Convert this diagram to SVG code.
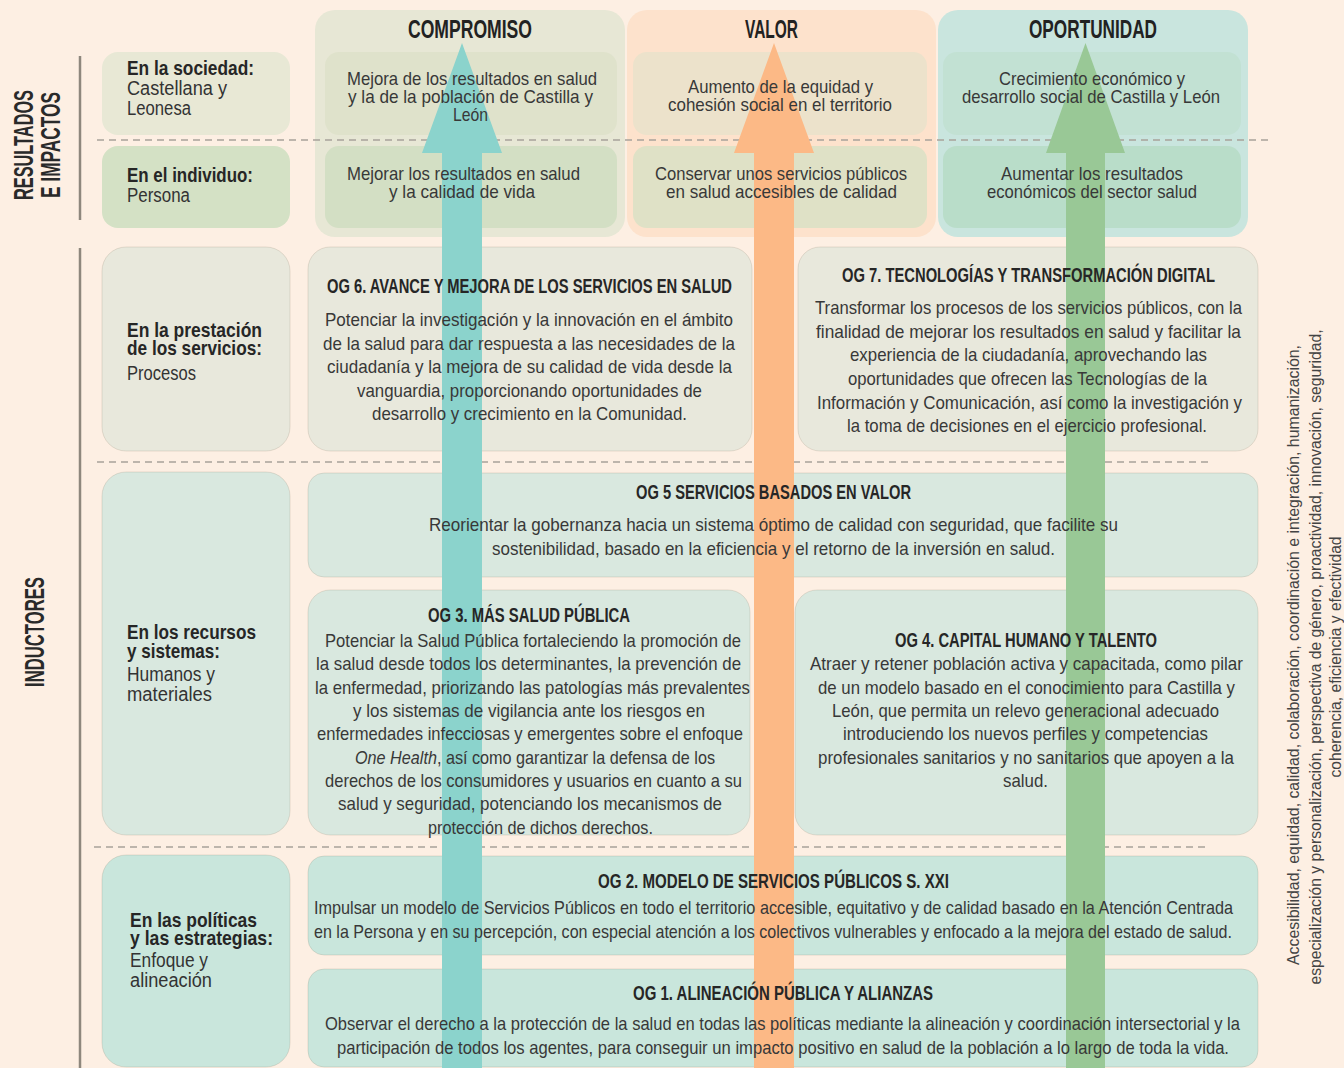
<svg xmlns="http://www.w3.org/2000/svg" width="1344" height="1068" viewBox="0 0 1344 1068">
<style>
text{font-family:"Liberation Sans",Arial,sans-serif}
.hdr{font-weight:bold;font-size:25px;fill:#222}
.big{font-weight:bold;font-size:28px;fill:#2a2a2a}
.lb{font-weight:bold;font-size:21px;fill:#262626}
.lr{font-size:20px;fill:#333}
.t{font-size:19px;fill:#383838}
.ttl{font-weight:bold;font-size:20px;fill:#262626}
.side{font-size:16px;fill:#444}
.sep{stroke:#a8a29a;stroke-width:1.6;stroke-dasharray:7 5;fill:none}
.vline{stroke:#8e877d;stroke-width:2.5}
.box{stroke:rgba(120,110,90,0.18);stroke-width:1}
.c1{fill:#e8e8dc}
.c2{fill:#d9e8df}
.c3{fill:#c9e6dc}
</style>
<rect width="1344" height="1068" fill="#fdefe3"/>

<!-- left axis lines and big labels -->
<g id="axis">
<line class="vline" x1="80" y1="56" x2="80" y2="220"/>
<line class="vline" x1="80" y1="248" x2="80" y2="1068"/>
</g>

<!-- node shapes -->
<g id="node-compromiso"><rect x="315" y="10" width="310" height="227" rx="20" fill="#e7e7d5"/></g>
<g id="node-valor"><rect x="627" y="10" width="309" height="227" rx="20" fill="#fde2cc"/></g>
<g id="node-oportunidad"><rect x="938" y="10" width="310" height="227" rx="20" fill="#c9e5de"/></g>

<g id="node-sociedad"><rect x="102" y="52" width="188" height="83" rx="16" fill="#e8e8d5"/></g>
<g id="node-individuo"><rect x="102" y="146" width="188" height="82" rx="16" fill="#d4e1c5"/></g>
<g id="node-comp-soc"><rect x="325" y="52" width="292" height="83" rx="14" fill="#dfe2cb"/></g>
<g id="node-comp-ind"><rect x="325" y="146" width="292" height="82" rx="14" fill="#d3dfc4"/></g>
<g id="node-val-soc"><rect x="633" y="52" width="294" height="83" rx="14" fill="#ece2cb"/></g>
<g id="node-val-ind"><rect x="633" y="146" width="294" height="82" rx="14" fill="#dfe1c6"/></g>
<g id="node-op-soc"><rect x="943" y="52" width="298" height="83" rx="14" fill="#c2e1d3"/></g>
<g id="node-op-ind"><rect x="943" y="146" width="298" height="82" rx="14" fill="#b9ddc9"/></g>

<g id="node-prestacion"><rect class="box c1" x="102" y="247" width="188" height="204" rx="24"/></g>
<g id="node-og6"><rect class="box c1" x="308" y="247" width="444" height="204" rx="22"/></g>
<g id="node-og7"><rect class="box c1" x="798" y="247" width="460" height="204" rx="22"/></g>
<g id="node-og5"><rect class="box c2" x="308" y="473" width="950" height="104" rx="16"/></g>
<g id="node-recursos"><rect class="box c2" x="102" y="472" width="188" height="363" rx="24"/></g>
<g id="node-og3"><rect class="box c2" x="308" y="590" width="442" height="245" rx="22"/></g>
<g id="node-og4"><rect class="box c2" x="795" y="590" width="463" height="245" rx="22"/></g>
<g id="node-politicas"><rect class="box c3" x="102" y="855" width="188" height="212" rx="24"/></g>
<g id="node-og2"><rect class="box c3" x="308" y="856" width="950" height="99" rx="16"/></g>
<g id="node-og1"><rect class="box c3" x="308" y="969" width="950" height="98" rx="16"/></g>

<!-- separators -->
<g id="separators">
<line class="sep" x1="97" y1="140" x2="1270" y2="140"/>
<line class="sep" x1="97" y1="462" x2="1210" y2="462"/>
<line class="sep" x1="94" y1="847" x2="1210" y2="847"/>
</g>

<!-- connectors: the three upward arrows -->
<g id="connectors">
<polygon points="462,43 502,153 482,153 482,1068 442,1068 442,153 422,153" fill="#8bd3cc"/>
<polygon points="774,43 814,153 794,153 794,1068 754,1068 754,153 734,153" fill="#fcb986"/>
<polygon points="1085.5,43 1125,153 1105,153 1105,1068 1066,1068 1066,153 1046,153" fill="#99c896"/>
</g>

<!-- labels -->
<g id="label-axis">
<text class="big" transform="translate(33,145) rotate(-90)" text-anchor="middle" textLength="110" lengthAdjust="spacingAndGlyphs">RESULTADOS</text>
<text class="big" transform="translate(60,145) rotate(-90)" text-anchor="middle" textLength="106" lengthAdjust="spacingAndGlyphs">E IMPACTOS</text>
<text class="big" transform="translate(44,632) rotate(-90)" text-anchor="middle" textLength="110" lengthAdjust="spacingAndGlyphs">INDUCTORES</text>
</g>

<g id="label-headers">
<text class="hdr" x="408" y="38" textLength="124" lengthAdjust="spacingAndGlyphs">COMPROMISO</text>
<text class="hdr" x="745" y="38" textLength="53" lengthAdjust="spacingAndGlyphs">VALOR</text>
<text class="hdr" x="1029" y="38" textLength="128" lengthAdjust="spacingAndGlyphs">OPORTUNIDAD</text>
</g>

<g id="label-sociedad">
<text class="lb" x="127" y="75" textLength="127" lengthAdjust="spacingAndGlyphs">En la sociedad:</text>
<text class="lr" x="127" y="95" textLength="100" lengthAdjust="spacingAndGlyphs">Castellana y</text>
<text class="lr" x="127" y="115" textLength="64" lengthAdjust="spacingAndGlyphs">Leonesa</text>
</g>
<g id="label-individuo">
<text class="lb" x="127" y="182" textLength="126" lengthAdjust="spacingAndGlyphs">En el individuo:</text>
<text class="lr" x="127" y="202" textLength="63" lengthAdjust="spacingAndGlyphs">Persona</text>
</g>

<g id="label-comp-soc">
<text class="t" x="347" y="85" textLength="250" lengthAdjust="spacingAndGlyphs">Mejora de los resultados en salud</text>
<text class="t" x="348" y="103" textLength="245" lengthAdjust="spacingAndGlyphs">y la de la población de Castilla y</text>
<text class="t" x="453" y="121" textLength="35" lengthAdjust="spacingAndGlyphs">León</text>
</g>
<g id="label-comp-ind">
<text class="t" x="347" y="180" textLength="233" lengthAdjust="spacingAndGlyphs">Mejorar los resultados en salud</text>
<text class="t" x="389" y="198" textLength="146" lengthAdjust="spacingAndGlyphs">y la calidad de vida</text>
</g>
<g id="label-val-soc">
<text class="t" x="688" y="93" textLength="185" lengthAdjust="spacingAndGlyphs">Aumento de la equidad y</text>
<text class="t" x="668" y="111" textLength="224" lengthAdjust="spacingAndGlyphs">cohesión social en el territorio</text>
</g>
<g id="label-val-ind">
<text class="t" x="655" y="180" textLength="252" lengthAdjust="spacingAndGlyphs">Conservar unos servicios públicos</text>
<text class="t" x="666" y="198" textLength="231" lengthAdjust="spacingAndGlyphs">en salud accesibles de calidad</text>
</g>
<g id="label-op-soc">
<text class="t" x="999" y="85" textLength="186" lengthAdjust="spacingAndGlyphs">Crecimiento económico y</text>
<text class="t" x="962" y="103" textLength="258" lengthAdjust="spacingAndGlyphs">desarrollo social de Castilla y León</text>
</g>
<g id="label-op-ind">
<text class="t" x="1001" y="180" textLength="182" lengthAdjust="spacingAndGlyphs">Aumentar los resultados</text>
<text class="t" x="987" y="198" textLength="210" lengthAdjust="spacingAndGlyphs">económicos del sector salud</text>
</g>

<g id="label-prestacion">
<text class="lb" x="127" y="337" textLength="135" lengthAdjust="spacingAndGlyphs">En la prestación</text>
<text class="lb" x="127" y="355" textLength="135" lengthAdjust="spacingAndGlyphs">de los servicios:</text>
<text class="lr" x="127" y="380" textLength="69" lengthAdjust="spacingAndGlyphs">Procesos</text>
</g>
<g id="label-recursos">
<text class="lb" x="127" y="639" textLength="129" lengthAdjust="spacingAndGlyphs">En los recursos</text>
<text class="lb" x="127" y="658" textLength="93" lengthAdjust="spacingAndGlyphs">y sistemas:</text>
<text class="lr" x="127" y="681" textLength="88" lengthAdjust="spacingAndGlyphs">Humanos y</text>
<text class="lr" x="127" y="701" textLength="85" lengthAdjust="spacingAndGlyphs">materiales</text>
</g>
<g id="label-politicas">
<text class="lb" x="130" y="927" textLength="127" lengthAdjust="spacingAndGlyphs">En las políticas</text>
<text class="lb" x="130" y="945" textLength="143" lengthAdjust="spacingAndGlyphs">y las estrategias:</text>
<text class="lr" x="130" y="967" textLength="78" lengthAdjust="spacingAndGlyphs">Enfoque y</text>
<text class="lr" x="130" y="987" textLength="82" lengthAdjust="spacingAndGlyphs">alineación</text>
</g>

<g id="label-og6">
<text class="ttl" x="327" y="293" textLength="405" lengthAdjust="spacingAndGlyphs">OG 6. AVANCE Y MEJORA DE LOS SERVICIOS EN SALUD</text>
<text class="t" x="325" y="326" textLength="408" lengthAdjust="spacingAndGlyphs">Potenciar la investigación y la innovación en el ámbito</text>
<text class="t" x="323" y="349.5" textLength="412" lengthAdjust="spacingAndGlyphs">de la salud para dar respuesta a las necesidades de la</text>
<text class="t" x="327" y="373" textLength="405" lengthAdjust="spacingAndGlyphs">ciudadanía y la mejora de su calidad de vida desde la</text>
<text class="t" x="357" y="396.5" textLength="345" lengthAdjust="spacingAndGlyphs">vanguardia, proporcionando oportunidades de</text>
<text class="t" x="372" y="420" textLength="315" lengthAdjust="spacingAndGlyphs">desarrollo y crecimiento en la Comunidad.</text>
</g>
<g id="label-og7">
<text class="ttl" x="842" y="282" textLength="373" lengthAdjust="spacingAndGlyphs">OG 7. TECNOLOGÍAS Y TRANSFORMACIÓN DIGITAL</text>
<text class="t" x="815" y="314" textLength="427" lengthAdjust="spacingAndGlyphs">Transformar los procesos de los servicios públicos, con la</text>
<text class="t" x="816" y="337.5" textLength="425" lengthAdjust="spacingAndGlyphs">finalidad de mejorar los resultados en salud y facilitar la</text>
<text class="t" x="850" y="361" textLength="357" lengthAdjust="spacingAndGlyphs">experiencia de la ciudadanía, aprovechando las</text>
<text class="t" x="848" y="385" textLength="359" lengthAdjust="spacingAndGlyphs">oportunidades que ofrecen las Tecnologías de la</text>
<text class="t" x="817" y="408.5" textLength="425" lengthAdjust="spacingAndGlyphs">Información y Comunicación, así como la investigación y</text>
<text class="t" x="847" y="432" textLength="360" lengthAdjust="spacingAndGlyphs">la toma de decisiones en el ejercicio profesional.</text>
</g>
<g id="label-og5">
<text class="ttl" x="636" y="499" textLength="275" lengthAdjust="spacingAndGlyphs">OG 5 SERVICIOS BASADOS EN VALOR</text>
<text class="t" x="429" y="531" textLength="689" lengthAdjust="spacingAndGlyphs">Reorientar la gobernanza hacia un sistema óptimo de calidad con seguridad, que facilite su</text>
<text class="t" x="492" y="555" textLength="563" lengthAdjust="spacingAndGlyphs">sostenibilidad, basado en la eficiencia y el retorno de la inversión en salud.</text>
</g>
<g id="label-og3">
<text class="ttl" x="428" y="622" textLength="202" lengthAdjust="spacingAndGlyphs">OG 3. MÁS SALUD PÚBLICA</text>
<text class="t" x="325" y="647" textLength="416" lengthAdjust="spacingAndGlyphs">Potenciar la Salud Pública fortaleciendo la promoción de</text>
<text class="t" x="316" y="670" textLength="425" lengthAdjust="spacingAndGlyphs">la salud desde todos los determinantes, la prevención de</text>
<text class="t" x="315" y="694" textLength="435" lengthAdjust="spacingAndGlyphs">la enfermedad, priorizando las patologías más prevalentes</text>
<text class="t" x="353" y="717" textLength="352" lengthAdjust="spacingAndGlyphs">y los sistemas de vigilancia ante los riesgos en</text>
<text class="t" x="317" y="740" textLength="426" lengthAdjust="spacingAndGlyphs">enfermedades infecciosas y emergentes sobre el enfoque</text>
<text class="t" x="355" y="764" textLength="360" lengthAdjust="spacingAndGlyphs"><tspan font-style="italic">One Health</tspan>, así como garantizar la defensa de los</text>
<text class="t" x="325" y="787" textLength="417" lengthAdjust="spacingAndGlyphs">derechos de los consumidores y usuarios en cuanto a su</text>
<text class="t" x="338" y="810" textLength="384" lengthAdjust="spacingAndGlyphs">salud y seguridad, potenciando los mecanismos de</text>
<text class="t" x="428" y="834" textLength="225" lengthAdjust="spacingAndGlyphs">protección de dichos derechos.</text>
</g>
<g id="label-og4">
<text class="ttl" x="895" y="647" textLength="262" lengthAdjust="spacingAndGlyphs">OG 4. CAPITAL HUMANO Y TALENTO</text>
<text class="t" x="810" y="670" textLength="433" lengthAdjust="spacingAndGlyphs">Atraer y retener población activa y capacitada, como pilar</text>
<text class="t" x="818" y="693.5" textLength="417" lengthAdjust="spacingAndGlyphs">de un modelo basado en el conocimiento para Castilla y</text>
<text class="t" x="832" y="717" textLength="387" lengthAdjust="spacingAndGlyphs">León, que permita un relevo generacional adecuado</text>
<text class="t" x="843" y="740" textLength="365" lengthAdjust="spacingAndGlyphs">introduciendo los nuevos perfiles y competencias</text>
<text class="t" x="818" y="763.5" textLength="416" lengthAdjust="spacingAndGlyphs">profesionales sanitarios y no sanitarios que apoyen a la</text>
<text class="t" x="1003" y="787" textLength="45" lengthAdjust="spacingAndGlyphs">salud.</text>
</g>
<g id="label-og2">
<text class="ttl" x="598" y="888" textLength="351" lengthAdjust="spacingAndGlyphs">OG 2. MODELO DE SERVICIOS PÚBLICOS S. XXI</text>
<text class="t" x="314" y="914" textLength="919" lengthAdjust="spacingAndGlyphs">Impulsar un modelo de Servicios Públicos en todo el territorio accesible, equitativo y de calidad basado en la Atención Centrada</text>
<text class="t" x="314" y="938" textLength="918" lengthAdjust="spacingAndGlyphs">en la Persona y en su percepción, con especial atención a los colectivos vulnerables y enfocado a la mejora del estado de salud.</text>
</g>
<g id="label-og1">
<text class="ttl" x="633" y="1000" textLength="300" lengthAdjust="spacingAndGlyphs">OG 1. ALINEACIÓN PÚBLICA Y ALIANZAS</text>
<text class="t" x="325" y="1030" textLength="915" lengthAdjust="spacingAndGlyphs">Observar el derecho a la protección de la salud en todas las políticas mediante la alineación y coordinación intersectorial y la</text>
<text class="t" x="337" y="1054" textLength="892" lengthAdjust="spacingAndGlyphs">participación de todos los agentes, para conseguir un impacto positivo en salud de la población a lo largo de toda la vida.</text>
</g>

<g id="label-values">
<text class="side" transform="translate(1299,655) rotate(-90)" text-anchor="middle" textLength="620" lengthAdjust="spacingAndGlyphs">Accesibilidad, equidad, calidad, colaboración, coordinación e integración, humanización,</text>
<text class="side" transform="translate(1321,657) rotate(-90)" text-anchor="middle" textLength="655" lengthAdjust="spacingAndGlyphs">especialización y personalización, perspectiva de género, proactividad, innovación, seguridad,</text>
<text class="side" transform="translate(1341,657) rotate(-90)" text-anchor="middle" textLength="241" lengthAdjust="spacingAndGlyphs">coherencia, eficiencia y efectividad</text>
</g>
</svg>
